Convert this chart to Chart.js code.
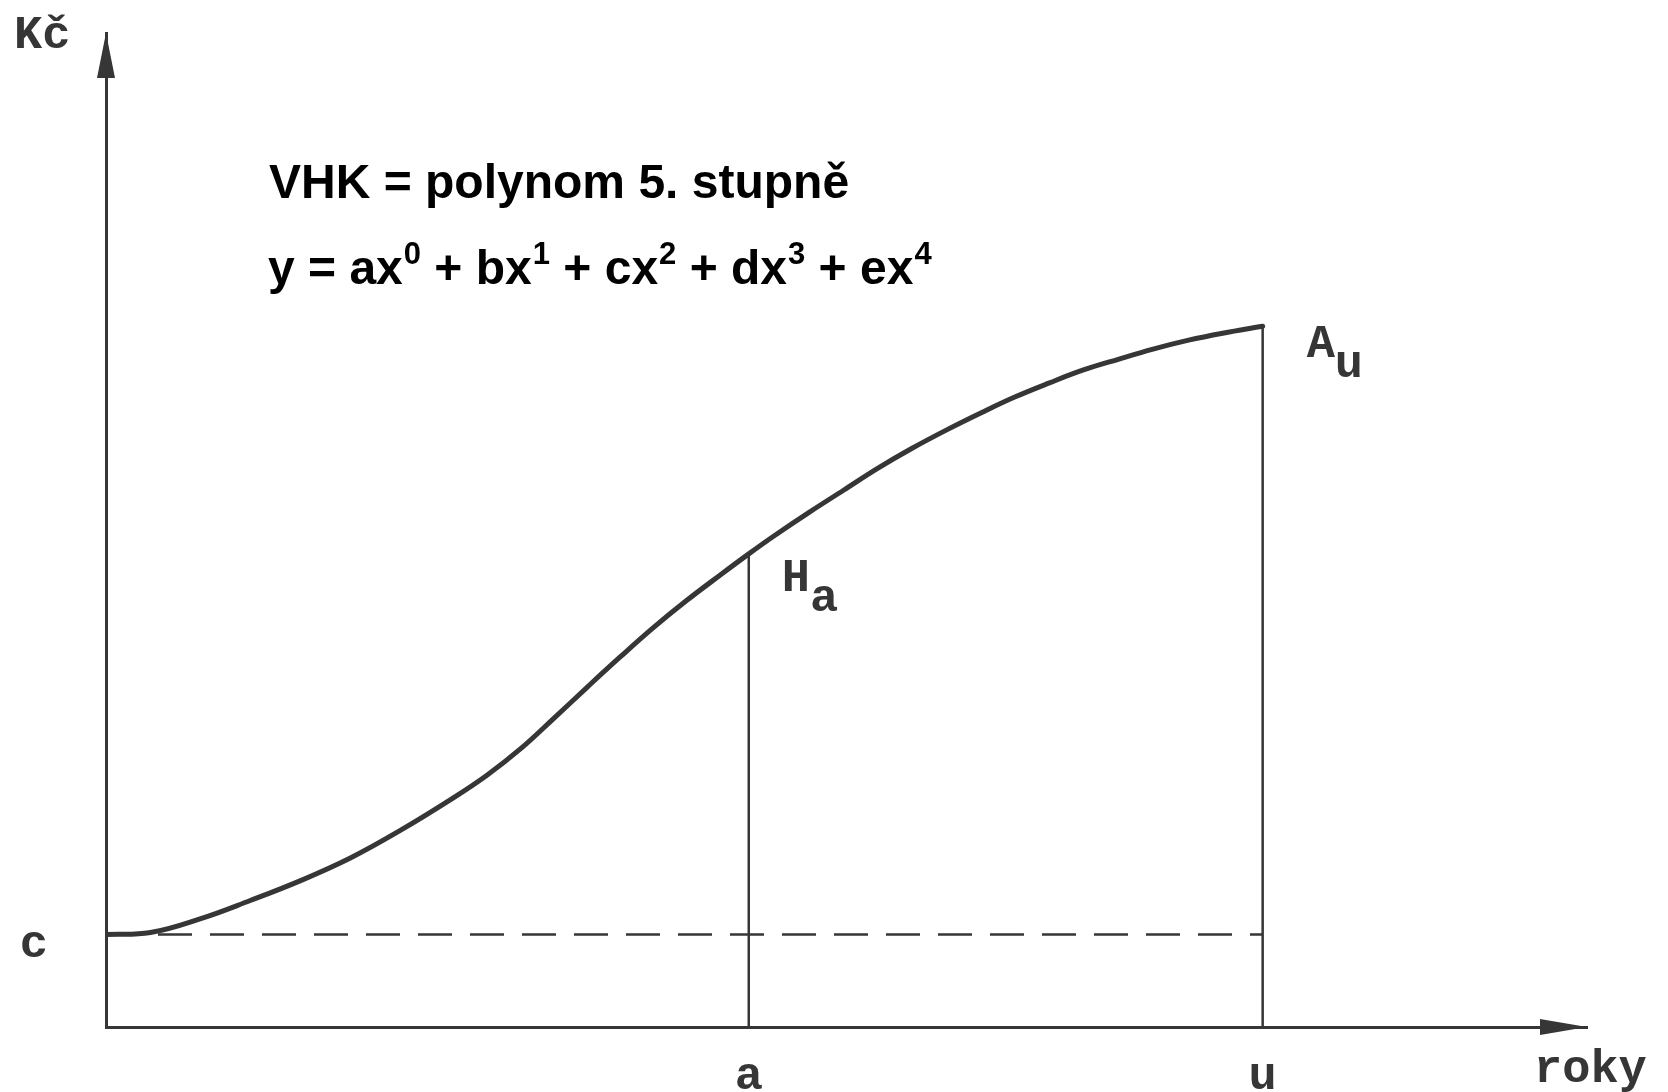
<!DOCTYPE html>
<html lang="cs">
<head>
<meta charset="utf-8">
<title>VHK = polynom 5. stupně</title>
<script src="https://cdn.jsdelivr.net/npm/chart.js@4.4.1/dist/chart.umd.min.js"></script>
<style>
  html, body { margin: 0; padding: 0; background: #fff; }
  #wrap { position: relative; width: 1668px; height: 1092px; }
</style>
</head>
<body>
<div id="wrap"><canvas id="vhkChart"></canvas></div>
<script>
// Values (x = roky, y = Kč, arbitrary units 0-100)
const curveX = [0, 3.0, 6.4, 9.7, 13.1, 16.5, 19.9, 23.4, 25.7, 28.0, 30.2, 32.5, 34.7, 36.9, 39.2, 41.5,
  43.4, 45.1, 47.5, 49.8, 52.1, 54.4, 56.8, 59.1, 61.4, 63.7, 66.0, 68.4, 70.7, 73.1, 75.4, 78.1];
const curveY = [9.3, 9.5, 10.9, 12.7, 14.7, 17.0, 19.8, 23.0, 25.3, 28.0, 31.0, 34.2, 37.2, 40.1, 42.9, 45.5,
  47.6, 49.4, 51.8, 54.0, 56.2, 58.2, 60.1, 61.8, 63.4, 64.8, 66.1, 67.2, 68.2, 69.1, 69.8, 70.5];

const cLevel = 9.3;     // c
const aYear = 43.4;     // a
const uYear = 78.1;     // u
const haValue = 47.6;   // H_a
const auValue = 70.5;   // A_u

const xTickValues = [aYear, uYear];
const xTickLabels = ["a", "u"];
const yTickValues = [cLevel];
const yTickLabels = ["c"];

const yAxisTitle = "Kč";
const xAxisTitle = "roky";
const titleLine = "VHK = polynom 5. stupně";
const formulaParts = [["y = ax", "0"], [" + bx", "1"], [" + cx", "2"], [" + dx", "3"], [" + ex", "4"]];

const ink = "#363636";
const typeFont = "bold 47px 'Liberation Mono', monospace";

// arrows on the axes + all the free text of the drawing
const drawingExtras = {
  id: "drawingExtras",
  afterDraw(chart) {
    const ctx = chart.ctx;
    const area = chart.chartArea;
    const xs = chart.scales.x;
    const ys = chart.scales.y;
    ctx.save();

    // arrow heads
    ctx.fillStyle = ink;
    ctx.beginPath();
    ctx.moveTo(area.left, area.top);
    ctx.lineTo(area.left - 9, area.top + 45);
    ctx.lineTo(area.left + 9, area.top + 45);
    ctx.closePath();
    ctx.fill();
    ctx.beginPath();
    ctx.moveTo(area.right, area.bottom);
    ctx.lineTo(area.right - 47, area.bottom - 8);
    ctx.lineTo(area.right - 47, area.bottom + 8);
    ctx.closePath();
    ctx.fill();

    // typewriter labels
    ctx.font = typeFont;
    ctx.textBaseline = "alphabetic";
    ctx.textAlign = "left";
    ctx.fillText(yAxisTitle, 14, 48);
    ctx.fillText(xAxisTitle, 1534, 1082);

    const pts = [[aYear, haValue, "H", "a", 33, 37], [uYear, auValue, "A", "u", 44, 31]];
    pts.forEach(([vx, vy, big, sub, dx, dy]) => {
      const px = xs.getPixelForValue(vx);
      const py = ys.getPixelForValue(vy);
      ctx.fillText(big, px + dx, py + dy);
      ctx.fillText(sub, px + dx + ctx.measureText(big).width, py + dy + 20);
    });

    // formula
    ctx.fillStyle = "#000";
    ctx.font = "bold 48px 'Liberation Sans', Arial, sans-serif";
    ctx.fillText(titleLine, 269, 198);
    let x = 268;
    formulaParts.forEach(([main, sup]) => {
      ctx.font = "bold 48px 'Liberation Sans', Arial, sans-serif";
      ctx.fillText(main, x, 284);
      x += ctx.measureText(main).width;
      ctx.font = "bold 31px 'Liberation Sans', Arial, sans-serif";
      ctx.fillText(sup, x + 1, 264);
      x += ctx.measureText(sup).width + 1;
    });
    ctx.restore();
  }
};

new Chart(document.getElementById("vhkChart"), {
  type: "line",
  data: {
    datasets: [
      {
        label: "VHK",
        data: curveX.map((v, i) => ({ x: v, y: curveY[i] })),
        borderColor: ink,
        borderWidth: 5,
        borderCapStyle: "round",
        borderJoinStyle: "round",
        tension: 0.4,
        pointRadius: 0
      },
      {
        label: "c",
        data: [{ x: 0, y: cLevel }, { x: uYear, y: cLevel }],
        borderColor: ink,
        borderWidth: 2.5,
        borderDash: [34, 18],
        pointRadius: 0
      },
      {
        label: "a",
        data: [{ x: aYear, y: 0 }, { x: aYear, y: haValue }],
        borderColor: ink,
        borderWidth: 2.5,
        pointRadius: 0
      },
      {
        label: "u",
        data: [{ x: uYear, y: 0 }, { x: uYear, y: auValue }],
        borderColor: ink,
        borderWidth: 2.5,
        pointRadius: 0
      }
    ]
  },
  options: {
    responsive: true,
    maintainAspectRatio: false,
    animation: false,
    layout: { padding: { top: 33, right: 81, left: 0, bottom: 0 } },
    plugins: {
      legend: { display: false },
      tooltip: { enabled: false }
    },
    scales: {
      x: {
        type: "linear",
        min: 0,
        max: 100,
        grid: { display: false, drawTicks: false },
        border: { display: true, color: ink, width: 3 },
        afterBuildTicks: s => { s.ticks = xTickValues.map(v => ({ value: v })); },
        afterFit: s => { s.height = 65; s.paddingLeft = 0; s.paddingRight = 0; },
        ticks: {
          autoSkip: false,
          maxRotation: 0,
          padding: 22,
          color: ink,
          font: { family: "'Liberation Mono', monospace", size: 47, weight: "bold" },
          callback: v => xTickLabels[xTickValues.indexOf(v)]
        }
      },
      y: {
        type: "linear",
        min: 0,
        max: 100,
        grid: { display: false, drawTicks: false },
        border: { display: true, color: ink, width: 3 },
        afterBuildTicks: s => { s.ticks = yTickValues.map(v => ({ value: v })); },
        afterFit: s => { s.width = 106; s.paddingTop = 0; s.paddingBottom = 0; },
        ticks: {
          autoSkip: false,
          padding: 58,
          labelOffset: 11,
          color: ink,
          font: { family: "'Liberation Mono', monospace", size: 47, weight: "bold" },
          callback: v => yTickLabels[yTickValues.indexOf(v)]
        }
      }
    }
  },
  plugins: [drawingExtras]
});
</script>
</body>
</html>
